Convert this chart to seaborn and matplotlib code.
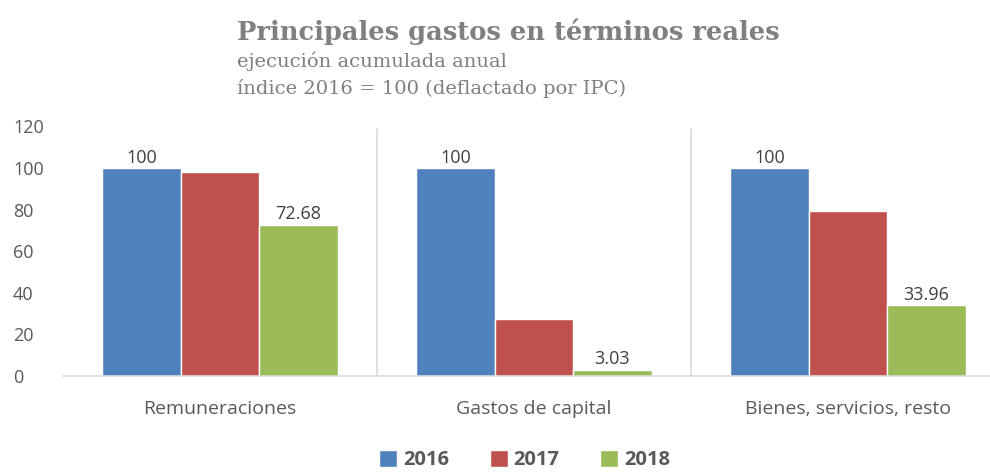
import seaborn as sns
import matplotlib.pyplot as plt
import pandas as pd

categorias = ["Remuneraciones", "Gastos de capital", "Bienes, servicios, resto"]
anios = ["2016", "2017", "2018"]
v2016 = [100, 100, 100]
v2017 = [98.1, 27.2, 79.1]
v2018 = [72.68, 3.03, 33.96]
etiquetas = {"2016": ["100", "100", "100"], "2018": ["72.68", "3.03", "33.96"]}
colores = ["#4F81BD", "#C0504D", "#9BBB59"]

sns.set_theme(style="white")
plt.rcParams["font.family"] = ["Open Sans", "DejaVu Sans"]

df = pd.DataFrame({
    "categoria": categorias * 3,
    "anio": [a for a in anios for _ in categorias],
    "valor": v2016 + v2017 + v2018,
})

fig = plt.figure(figsize=(9.9, 4.72), dpi=100)
ax = fig.add_axes([63 / 990, 1 - 376 / 472, 942 / 990, 249.6 / 472])
sns.barplot(data=df, x="categoria", y="valor", hue="anio", palette=colores,
            width=0.75, saturation=1, ax=ax, legend=True)

ax.set_ylim(0, 120)
ax.set_xlim(-0.5, 2.5)
ax.set_yticks(range(0, 121, 20))
ax.set_xlabel("")
ax.set_ylabel("")
for s in ["top", "right", "left"]:
    ax.spines[s].set_visible(False)
ax.spines["bottom"].set_color("#d9d9d9")
ax.spines["bottom"].set_linewidth(1.2)
for xs in [0.5, 1.5]:
    ax.axvline(xs, color="#d9d9d9", lw=1.2, ymax=0.99)

ax.tick_params(axis="y", length=0, pad=36, labelsize=13, labelcolor="#595959")
for t in ax.get_yticklabels():
    t.set_horizontalalignment("left")
ax.tick_params(axis="x", length=0, pad=17, labelsize=14, labelcolor="#595959")

for cont, anio in zip(ax.containers, anios):
    if anio in etiquetas:
        ax.bar_label(cont, labels=etiquetas[anio], padding=1, fontsize=13, color="#404040")

handles, labels = ax.get_legend_handles_labels()
ax.get_legend().remove()
fig.legend(handles, labels, loc="center", bbox_to_anchor=(0.53, 1 - 460 / 472), ncol=3,
           frameon=False, handlelength=0.9, handleheight=0.9, handletextpad=0.3,
           columnspacing=2.0, prop={"size": 14.5, "weight": "bold"}, labelcolor="#595959")

fig.text(237 / 990, 1 - 40 / 472, "Principales gastos en términos reales", family="DejaVu Serif",
         fontsize=18.5, fontweight="bold", color="#808080", va="baseline")
fig.text(237 / 990, 1 - 67 / 472, "ejecución acumulada anual", family="DejaVu Serif",
         fontsize=14, color="#7f7f7f", va="baseline")
fig.text(237 / 990, 1 - 94 / 472, "índice 2016 = 100 (deflactado por IPC)", family="DejaVu Serif",
         fontsize=14, color="#7f7f7f", va="baseline")

fig.savefig("out.png", dpi=100)
